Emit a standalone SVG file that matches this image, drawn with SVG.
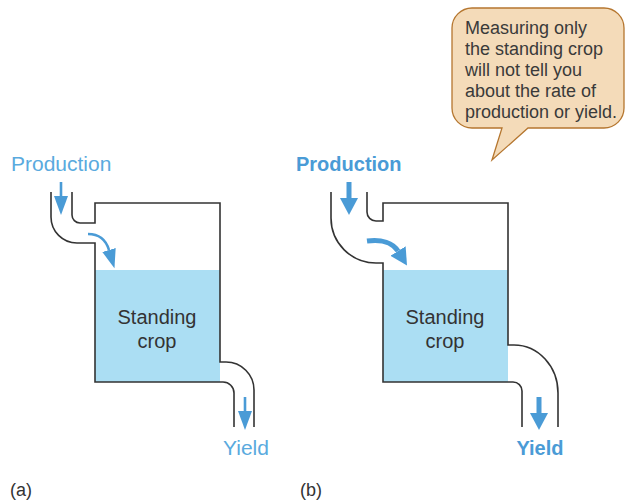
<svg xmlns="http://www.w3.org/2000/svg" width="626" height="502" viewBox="0 0 626 502">
  <style>
    .wall { fill: none; stroke: #333; stroke-width: 1.6; }
    .water { fill: #abdef3; }
    .thin { fill: none; stroke: #4a9bd6; stroke-width: 2.6; }
    .thick { fill: none; stroke: #4a9bd6; stroke-width: 5; }
    .lbl { font-family: "Liberation Sans", Arial, sans-serif; font-size: 21px; fill: #5aaade; }
    .lblb { font-family: "Liberation Sans", Arial, sans-serif; font-size: 20px; font-weight: bold; fill: #4a9bd6; }
    .body { font-family: "Liberation Sans", Arial, sans-serif; font-size: 20px; fill: #333; }
    .note { font-family: "Liberation Sans", Arial, sans-serif; font-size: 18px; fill: #3a3a3a; }
    .cap { font-family: "Liberation Sans", Arial, sans-serif; font-size: 18px; fill: #333; }
  </style>
  <defs>
    <marker id="headThin" markerUnits="userSpaceOnUse" viewBox="0 -8 20 16" markerWidth="20" markerHeight="16" refX="0" refY="0" orient="auto">
      <path d="M0,-7 L19,0 L0,7 Z" fill="#4a9bd6"/>
    </marker>
    <marker id="headThick" markerUnits="userSpaceOnUse" viewBox="0 -10 20 20" markerWidth="20" markerHeight="20" refX="0" refY="0" orient="auto">
      <path d="M0,-9 L17,0 L0,9 Z" fill="#4a9bd6"/>
    </marker>
  </defs>

  <!-- (a) tank with light labels -->
  <g id="tank-a">
    <rect class="water" x="95" y="270" width="125" height="112"/>
    <path class="wall" d="M51,192 V217 A26,26 0 0 0 77,243 H95 V382 H223 A11,11 0 0 1 234,393 V427"/>
    <path class="wall" d="M72,192 V215 A8,8 0 0 0 80,223 H95 V203 H220 V362 H226 A28,28 0 0 1 254,390 V427"/>
    <text class="body" x="157" y="324" text-anchor="middle">Standing</text>
    <text class="body" x="157" y="348" text-anchor="middle">crop</text>
  </g>
  <g id="production-a">
    <text class="lbl" x="11" y="171">Production</text>
  </g>
  <g id="yield-a">
    <text class="lbl" x="246" y="455" text-anchor="middle">Yield</text>
  </g>

  <!-- (b) tank with bold labels -->
  <g id="tank-b">
    <rect class="water" x="383" y="270" width="125" height="112"/>
    <path class="wall" d="M331,192 V218 A45,45 0 0 0 376,263 H383 V382 H513 A9,9 0 0 1 522,391 V427"/>
    <path class="wall" d="M367,192 V212 A9,9 0 0 0 376,221 H383 V203 H508 V345 H514 A44,48 0 0 1 558,393 V427"/>
    <text class="body" x="445" y="324" text-anchor="middle">Standing</text>
    <text class="body" x="445" y="348" text-anchor="middle">crop</text>
  </g>
  <g id="production-b">
    <text class="lblb" x="296" y="171">Production</text>
  </g>
  <g id="yield-b">
    <text class="lblb" x="540" y="455" text-anchor="middle">Yield</text>
  </g>

  <!-- callout -->
  <g id="callout">
    <path d="M472,8 H604 A20,20 0 0 1 624,28 V108 A20,20 0 0 1 604,128 H528 L492,160 L502,128 H472 A20,20 0 0 1 452,108 V28 A20,20 0 0 1 472,8 Z" fill="#f4dbb9" stroke="#b5762f" stroke-width="1.3"/>
    <text class="note" x="465" y="34">Measuring only</text>
    <text class="note" x="465" y="55">the standing crop</text>
    <text class="note" x="465" y="76">will not tell you</text>
    <text class="note" x="465" y="97">about the rate of</text>
    <text class="note" x="465" y="118">production or yield.</text>
  </g>

  <!-- flow arrows -->
  <g id="connectors">
    <path class="thin" d="M61,182 V196" marker-end="url(#headThin)"/>
    <path class="thin" d="M88,234 C100,234 106,240 109,250" marker-end="url(#headThin)"/>
    <path class="thin" d="M245,397 V411" marker-end="url(#headThin)"/>
    <path class="thick" d="M349,182 V198" marker-end="url(#headThick)"/>
    <path class="thick" d="M367,241 C382,239 393,243 398,251" marker-end="url(#headThick)"/>
    <path class="thick" d="M539,397 V413" marker-end="url(#headThick)"/>
  </g>

  <!-- panel captions -->
  <text class="cap" x="10" y="496">(a)</text>
  <text class="cap" x="300" y="496">(b)</text>
</svg>
